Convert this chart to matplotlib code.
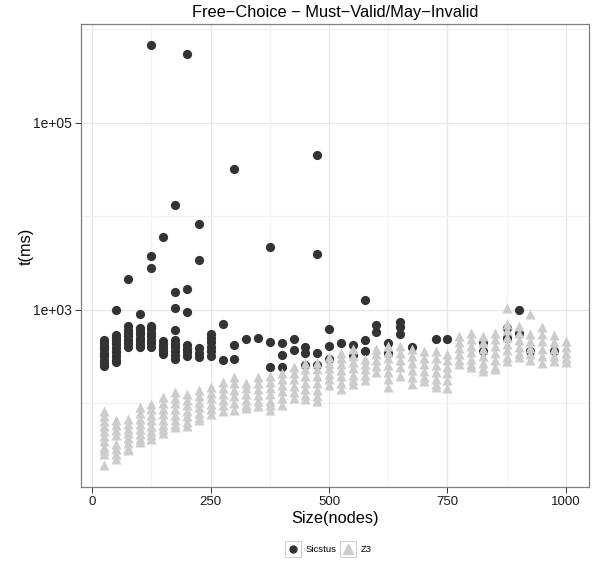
import numpy as np
import matplotlib
matplotlib.use("Agg")
import matplotlib.pyplot as plt
from matplotlib.lines import Line2D
from matplotlib.patches import Rectangle
from matplotlib.ticker import FixedLocator, NullFormatter
from matplotlib.transforms import IdentityTransform

plt.rcParams['font.family'] = ['Liberation Sans', 'DejaVu Sans']

# ---------------- data ----------------
sizes = [25, 50, 75, 100, 125, 150, 175, 200, 225, 250,
         275, 300, 325, 350, 375, 400, 425, 450, 475, 500,
         525, 550, 575, 600, 625, 650, 675, 700, 725, 750,
         775, 800, 825, 850, 875, 900, 925, 950, 975, 1000]

sicstus_ms = [
    [475, 440, 405, 375, 345, 315, 290, 265, 250],           # 25
    [977, 535, 495, 460, 425, 390, 355, 320, 290, 272],      # 50
    [2110, 660, 610, 560, 515, 475, 435, 395],               # 75
    [890, 630, 585, 540, 500, 460, 425, 395],                # 100
    [680000, 3700, 2750, 665, 615, 565, 520, 475, 435, 395], # 125
    [5960, 455, 420, 390, 360, 330],                         # 150
    [13100, 1530, 1050, 610, 470, 430, 395, 360, 325, 295],  # 175
    [540000, 1650, 930, 415, 380, 350, 320],                 # 200
    [8200, 3370, 385, 345, 310],                             # 225
    [540, 490, 445, 400, 360, 320],                          # 250
    [692, 288],                                              # 275
    [32000, 417, 295],                                       # 300
    [479],                                                   # 325
    [490],                                                   # 350
    [4650, 447, 245],                                        # 375
    [437, 324, 245],                                         # 400
    [479, 372],                                              # 425
    [398, 339, 257],                                         # 450
    [45000, 3920, 339, 257],                                 # 475
    [617, 407, 295],                                         # 500
    [437],                                                   # 525
    [417, 324],                                              # 550
    [1270, 468, 363],                                        # 575
    [676, 575],                                              # 600
    [437, 339],                                              # 625
    [736, 646, 550],                                         # 650
    [398],                                                   # 675
    [],                                                      # 700
    [479],                                                   # 725
    [479],                                                   # 750
    [],                                                      # 775
    [],                                                      # 800
    [447, 363],                                              # 825
    [],                                                      # 850
    [631, 500],                                              # 875
    [977, 562],                                              # 900
    [363],                                                   # 925
    [],                                                      # 950
    [363],                                                   # 975
    [],                                                      # 1000
]

z3_ms = [
    [81, 72, 64, 57, 50, 44, 39, 34, 31, 28, 21.5],  # 25
    [65, 58, 51, 45, 36, 32, 28, 25],                # 50
    [68, 60, 53, 47, 42, 37, 33, 31],                # 75
    [90, 78, 68, 60, 53, 46, 41, 38],                # 100
    [98, 85, 74, 65, 57, 50, 45, 41],                # 125
    [116, 100, 87, 76, 66, 58, 52, 47],              # 150
    [132, 114, 99, 86, 75, 66, 59, 55],              # 175
    [126, 108, 94, 82, 72, 63, 57],                  # 200
    [136, 118, 103, 90, 78, 70, 65],                 # 225
    [148, 128, 112, 98, 86, 76],                     # 250
    [169, 145, 125, 108, 94, 81],                    # 275
    [190, 162, 138, 118, 100, 84],                   # 300
    [165, 144, 125, 108, 95, 88],                    # 325
    [190, 162, 140, 120, 104, 93],                   # 350
    [194, 166, 143, 123, 106, 95, 84],               # 375
    [211, 180, 155, 133, 114, 96],                   # 400
    [243, 208, 178, 152, 130, 112],                  # 425
    [270, 230, 195, 165, 140, 120, 110],             # 450
    [270, 228, 192, 162, 137, 118, 106],             # 475
    [309, 270, 236, 205, 178, 157],                  # 500
    [346, 300, 260, 225, 195, 165, 141],             # 525
    [376, 320, 275, 235, 200, 175, 160],             # 550
    [293, 260, 230, 200, 174],                       # 575
    [376, 330, 290, 250, 214],                       # 600
    [407, 350, 300, 255, 215, 180, 147],             # 625
    [407, 345, 290, 240, 196],                       # 650
    [376, 320, 270, 225, 190, 160],                  # 675
    [360, 305, 260, 220, 190, 173],                  # 700
    [360, 305, 255, 215, 180, 160, 147],             # 725
    [337, 290, 245, 210, 175, 145],                  # 750
    [521, 450, 390, 335, 290, 261],                  # 775
    [566, 480, 410, 350, 295, 260, 241],             # 800
    [521, 445, 380, 320, 270, 235, 218],             # 825
    [566, 480, 405, 340, 285, 245, 231],             # 850
    [1048, 708, 600, 510, 430, 365, 310, 279],       # 875
    [667, 560, 470, 395, 340, 308],                  # 900
    [890, 543, 460, 390, 330, 288],                  # 925
    [650, 545, 455, 380, 315, 266],                  # 950
    [534, 450, 380, 320, 279],                       # 975
    [461, 400, 345, 300, 272],                       # 1000
]

x_ticks = [0, 250, 500, 750, 1000]
y_ticks = [1e3, 1e5]
y_tick_labels = ['1e+03', '1e+05']

title = 'Free\u2212Choice \u2212 Must\u2212Valid/May\u2212Invalid'
series_names = ['Sicstus', 'Z3']

# ---------------- plotting ----------------
S_COLOR = '#333333'
Z_COLOR = '#cccccc'

W, H = 598, 570
fig = plt.figure(figsize=(W / 100, H / 100), dpi=100)
ax = fig.add_axes([81 / W, 1 - 487 / H, 508 / W, 463 / H])

def expand(xs, lists):
    xx, yy = [], []
    for x, vals in zip(xs, lists):
        xx.extend([x] * len(vals))
        yy.extend(vals)
    return np.array(xx, dtype=float), np.array(yy, dtype=float)

sx, sy = expand(sizes, sicstus_ms)
zx, zy = expand(sizes, z3_ms)

ax.scatter(sx, sy, s=44, marker='o', color=S_COLOR, linewidths=0, zorder=3)
ax.scatter(zx, zy, s=52, marker='^', color=Z_COLOR, linewidths=0, zorder=4)

ax.set_yscale('log')
ax.set_xlim(-23.75, 1048.75)
ax.set_ylim(10 ** 1.099, 10 ** 6.058)

ax.set_xticks(x_ticks)
ax.set_xticklabels([str(t) for t in x_ticks])
ax.set_xticks([125, 375, 625, 875], minor=True)
ax.yaxis.set_major_locator(FixedLocator(y_ticks))
ax.set_yticklabels(y_tick_labels)
ax.yaxis.set_minor_locator(FixedLocator([1e2, 1e4, 1e6]))
ax.yaxis.set_minor_formatter(NullFormatter())

ax.grid(True, which='major', color='#e6e6e6', linewidth=0.9, zorder=0)
ax.grid(True, which='minor', color='#f3f3f3', linewidth=0.9, zorder=0)
ax.set_axisbelow(True)

ax.tick_params(which='major', length=4, width=0.7, color='#333333',
               labelsize=9.5, labelcolor='#1a1a1a', pad=2.5)
ax.tick_params(axis='y', which='major', labelsize=10)
ax.tick_params(which='minor', length=0)
for sp in ax.spines.values():
    sp.set_color('#7f7f7f')
    sp.set_linewidth(0.9)

fig.text(335 / W, 1 - 518 / H, 'Size(nodes)', ha='center', va='center', fontsize=11.8)
fig.text(26 / W, 1 - 246 / H, 't(ms)', ha='center', va='center', rotation=90, fontsize=11.8)
fig.text(335 / W, 1 - 12 / H, title, ha='center', va='center', fontsize=11.8)

# legend
h1 = Line2D([], [], marker='o', linestyle='none', color=S_COLOR, markersize=5)
h2 = Line2D([], [], marker='^', linestyle='none', color=Z_COLOR, markersize=6.5)
leg = fig.legend([h1, h2], series_names, loc='center',
                 bbox_to_anchor=(328 / W, 1 - 549.5 / H), ncol=2, frameon=False,
                 fontsize=6.8, handlelength=1.8, handletextpad=0.45,
                 columnspacing=0.3, borderpad=0, numpoints=1)
fig.canvas.draw()
r = fig.canvas.get_renderer()
for h in leg.legend_handles:
    bb = h.get_window_extent(r)
    cx, cy = (bb.x0 + bb.x1) / 2, (bb.y0 + bb.y1) / 2
    rect = Rectangle((cx - 8, cy - 8), 16, 16, transform=IdentityTransform(),
                     facecolor='white', edgecolor='#cccccc', linewidth=0.7, zorder=4)
    fig.add_artist(rect)

fig.savefig('out.png', dpi=100)
